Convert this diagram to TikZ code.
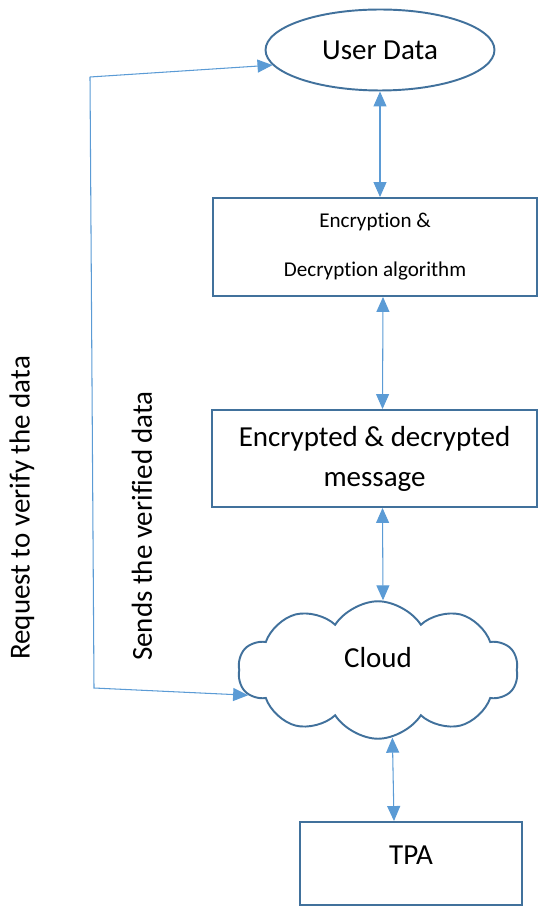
\documentclass[tikz,border=0pt]{standalone}
\usepackage{fontspec}
\setmainfont{Carlito}[Ligatures=NoCommon]
\usetikzlibrary{arrows.meta,shapes.geometric,shapes.symbols,calc}

\definecolor{boxblue}{HTML}{41719C}
\definecolor{linkblue}{HTML}{5B9BD5}

\begin{document}
\begin{tikzpicture}[x=0.02cm, y=-0.02cm,
    >={Triangle[length=0.3cm, width=0.26cm]},
    bigtext/.style={font=\fontsize{16.5}{22.8}\selectfont},
    smalltext/.style={font=\fontsize{12}{14.4}\selectfont},
    block/.style={draw=boxblue, line width=1.1pt, rectangle, inner sep=0pt, align=center},
    link/.style={draw=linkblue, line width=0.6pt}]
    \useasboundingbox (0,0) rectangle (539,908);

    % Draw the user data ellipse at the top
    \node[block, ellipse, bigtext, minimum width=4.58cm, minimum height=1.62cm] (ud) at (380,50) {User Data};

    % Draw the algorithm box
    \node[block, smalltext, minimum width=6.48cm, minimum height=1.96cm] (alg) at (375,247)
        {Encryption \&\\[13.5pt]Decryption algorithm};

    % Draw the message box
    \node[block, bigtext, minimum width=6.5cm, minimum height=1.94cm] (msg) at (374.5,458.5)
        {Encrypted \& decrypted\\message};

    % Draw the cloud
    \node[block, cloud, cloud puffs=10, cloud puff arc=115, aspect=2.2, bigtext,
          minimum width=5.6cm, minimum height=2.75cm, text depth=0.49cm] (cld) at (378,670) {Cloud};

    % Draw the TPA box at the bottom
    \node[block, bigtext, minimum width=4.44cm, minimum height=1.66cm, text depth=0.34cm] (tpa) at (411,863.5) {TPA};

    % Two-way arrows down the middle
    \draw[link, <->] (ud.south) -- (ud.south |- alg.north);
    \draw[link, <->] ($(alg.south)+(8,0)$) -- ($(msg.north)+(8,0)$);
    \draw[link, <->] ($(msg.south)+(8,0)$) -- ($(cld.north)+(5,0)$);
    \draw[link, <->] (cld.-78) -- ($(tpa.north)+(-17,0)$);

    % The loop on the left side
    \coordinate (tl) at (90,77);
    \coordinate (bl) at (94,688);
    \draw[link, ->] (tl) -- (ud.188);
    \draw[link, ->] (tl) -- (bl) -- (cld.191);

    % Labels along the loop
    \node[bigtext, rotate=90] (req) at (22,508) {Request to verify the data};
    \node[bigtext, rotate=90] (snd) at (142,526) {Sends the verified data};
\end{tikzpicture}
\end{document}
